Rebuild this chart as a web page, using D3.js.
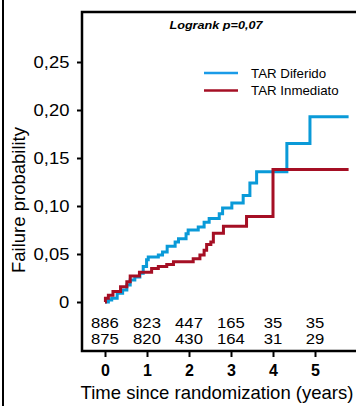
<!DOCTYPE html>
<html>
<head>
<meta charset="utf-8">
<script src="https://cdn.jsdelivr.net/npm/d3@7"></script>
<style>
  body { margin: 0; background: #fff; }
  svg { display: block; font-family: "Liberation Sans", Arial, sans-serif; }
</style>
</head>
<body>
<div id="chart"></div>
<script>
// data
const diferidoT = [0, 0.08, 0.16, 0.29, 0.42, 0.52, 0.60, 0.71, 0.83, 0.91, 0.99, 1.03, 1.27, 1.37, 1.48, 1.67, 1.75, 1.93, 1.98, 2.22, 2.36, 2.48, 2.72, 2.80, 3.02, 3.29, 3.45, 3.61, 4.33, 4.88, 5.8];
const diferidoP = [0, 0.002, 0.004, 0.009, 0.0125, 0.0177, 0.023, 0.026, 0.030, 0.037, 0.044, 0.047, 0.049, 0.052, 0.058, 0.0625, 0.066, 0.071, 0.075, 0.078, 0.083, 0.087, 0.092, 0.098, 0.103, 0.111, 0.124, 0.1357, 0.165, 0.193, 0.193];
const inmediatoT = [0, 0.01, 0.08, 0.19, 0.37, 0.52, 0.60, 0.82, 1.11, 1.27, 1.47, 1.63, 2.10, 2.26, 2.36, 2.42, 2.52, 2.58, 2.82, 3.37, 4.00, 5.8];
const inmediatoP = [0, 0.004, 0.007, 0.011, 0.016, 0.021, 0.027, 0.031, 0.035, 0.037, 0.039, 0.042, 0.045, 0.049, 0.054, 0.060, 0.0625, 0.0715, 0.079, 0.089, 0.138, 0.138];

const xTicks = [0, 1, 2, 3, 4, 5];
const yTicks = [0, 0.05, 0.10, 0.15, 0.20, 0.25];
const atRiskDiferido = [886, 823, 447, 165, 35, 35];
const atRiskInmediato = [875, 820, 430, 164, 31, 29];
const seriesNames = ["TAR Diferido", "TAR Inmediato"];
const seriesColors = ["#0a9ad8", "#a50f24"];

const width = 356, height = 406;
const box = { left: 82, right: 356, top: 12, bottom: 351 };

const svg = d3.select("#chart").append("svg")
    .attr("width", width)
    .attr("height", height);

const x = d3.scaleLinear().domain([0, 5]).range([105, 315]);
const y = d3.scaleLinear().domain([0, 0.25]).range([302, 62]);

// outer left rule of the figure
svg.append("line")
    .attr("x1", 3).attr("x2", 3)
    .attr("y1", 0).attr("y2", height)
    .attr("stroke", "#000").attr("stroke-width", 2);

// plot frame: top, left, bottom
svg.append("path")
    .attr("d", `M${box.right},${box.top}H${box.left}V${box.bottom}H${box.right}`)
    .attr("fill", "none")
    .attr("stroke", "#000")
    .attr("stroke-width", 2.5);

// y axis
const fmtY = d => d === 0 ? "0" : d3.format(".2f")(d).replace(".", ",");
const yAxis = svg.append("g")
    .attr("transform", `translate(${box.left},0)`)
    .call(d3.axisLeft(y).tickValues(yTicks).tickFormat(fmtY).tickSize(5).tickPadding(6));
yAxis.select(".domain").remove();
yAxis.selectAll(".tick line").attr("stroke", "#000").attr("stroke-width", 2);
yAxis.selectAll(".tick text")
    .attr("font-family", "Liberation Sans, Arial, sans-serif")
    .attr("font-size", 16)
    .attr("fill", "#000")
    .attr("transform", "scale(1.15,1)");

// x axis
const xAxis = svg.append("g")
    .attr("transform", `translate(0,${box.bottom})`)
    .call(d3.axisBottom(x).tickValues(xTicks).tickFormat(d3.format("d")).tickSize(6).tickPadding(8));
xAxis.select(".domain").remove();
xAxis.selectAll(".tick line").attr("stroke", "#000").attr("stroke-width", 2);
xAxis.selectAll(".tick text")
    .attr("font-family", "Liberation Sans, Arial, sans-serif")
    .attr("font-size", 16)
    .attr("font-weight", "bold")
    .attr("fill", "#000");

// axis titles
svg.append("text")
    .attr("x", 217).attr("y", 399)
    .attr("text-anchor", "middle")
    .attr("font-size", 18.5)
    .text("Time since randomization (years)");

svg.append("text")
    .attr("transform", "translate(25,200) rotate(-90)")
    .attr("text-anchor", "middle")
    .attr("font-size", 18.5)
    .text("Failure probability");

// curves
const line = d3.line()
    .x(d => x(d[0]))
    .y(d => y(d[1]))
    .curve(d3.curveStepAfter);

const curves = [
    d3.zip(diferidoT, diferidoP),
    d3.zip(inmediatoT, inmediatoP)
];

svg.selectAll(".curve")
    .data(curves)
    .join("path")
    .attr("class", "curve")
    .attr("d", line)
    .attr("fill", "none")
    .attr("stroke", (d, i) => seriesColors[i])
    .attr("stroke-width", 3);

// numbers at risk
[atRiskDiferido, atRiskInmediato].forEach((row, r) => {
    svg.append("g").selectAll("text")
        .data(row)
        .join("text")
        .attr("x", (d, i) => x(xTicks[i]) / 1.15)
        .attr("y", 328 + r * 16)
        .attr("text-anchor", "middle")
        .attr("font-size", 14.5)
        .attr("transform", "scale(1.15,1)")
        .text(d => d);
});

// legend
const legend = svg.append("g");
seriesNames.forEach((name, i) => {
    legend.append("line")
        .attr("x1", 204).attr("x2", 238)
        .attr("y1", 73 + i * 17.5).attr("y2", 73 + i * 17.5)
        .attr("stroke", i === 0 ? "#1a9be8" : seriesColors[1])
        .attr("stroke-width", 2.5);
    legend.append("text")
        .attr("x", 251).attr("y", 77.5 + i * 17.5)
        .attr("font-size", 13.3)
        .text(name);
});

// logrank note
svg.append("text")
    .attr("x", 216 / 1.15).attr("y", 29)
    .attr("text-anchor", "middle")
    .attr("font-size", 11)
    .attr("font-weight", "bold")
    .attr("font-style", "italic")
    .attr("transform", "scale(1.15,1)")
    .text("Logrank p=0,07");
</script>
</body>
</html>
